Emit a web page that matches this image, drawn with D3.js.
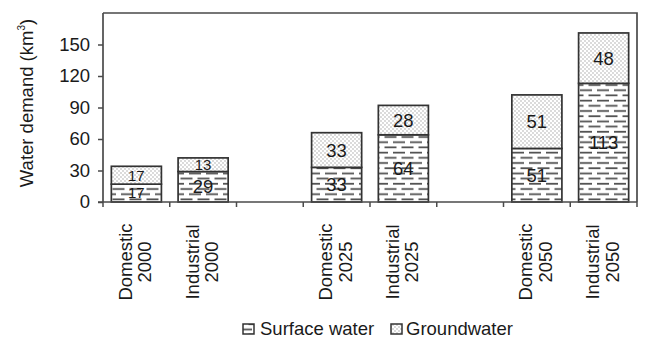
<!DOCTYPE html>
<html>
<head>
<meta charset="utf-8">
<script src="https://cdn.jsdelivr.net/npm/d3@7/dist/d3.min.js"></script>
<style>
  html, body { margin: 0; padding: 0; background: #fff; }
  svg { display: block; font-family: Arial, "Liberation Sans", Helvetica, sans-serif; }
</style>
</head>
<body>
<svg id="chart" width="645" height="337"></svg>
<script>
// Water demand by sector and year, split by source (km³)
const categories = ["dom2000", "ind2000", "gap1", "dom2025", "ind2025", "gap2", "dom2050", "ind2050"];
const sectorLabels = ["Domestic", "Industrial", "", "Domestic", "Industrial", "", "Domestic", "Industrial"];
const yearLabels = ["2000", "2000", "", "2025", "2025", "", "2050", "2050"];
const surfaceWater = [17, 29, null, 33, 64, null, 51, 113];
const groundwater = [17, 13, null, 33, 28, null, 51, 48];
const yTicks = [0, 30, 60, 90, 120, 150];
const seriesNames = ["Surface water", "Groundwater"];

const svg = d3.select("#chart");
const margin = { left: 103, right: 8, top: 13, bottom: 135 };
const W = 645, H = 337;

const x = d3.scaleBand()
  .domain(categories)
  .range([margin.left, W - margin.right])
  .paddingInner(0.25)
  .paddingOuter(0.125);

const y = d3.scaleLinear()
  .domain([0, 180])
  .range([H - margin.bottom, margin.top]);

const ink = "#1a1a1a";
const frame = "#4a4a4a";

// Fill patterns: dashed rows for surface water, stipple for groundwater
const defs = svg.append("defs");
const rowH = 5.2;
const dash = defs.append("pattern")
  .attr("id", "surfacePat")
  .attr("patternUnits", "userSpaceOnUse")
  .attr("width", 17)
  .attr("height", rowH * 2)
  .attr("x", 0)
  .attr("y", y(0) % (rowH * 2));
dash.append("rect").attr("width", 17).attr("height", rowH * 2).attr("fill", "#fff");
dash.append("line").attr("x1", 2).attr("x2", 14).attr("y1", rowH * 0.5).attr("y2", rowH * 0.5)
  .attr("stroke", "#4a4a4a").attr("stroke-width", 1.7);
dash.append("line").attr("x1", 10.5).attr("x2", 17).attr("y1", rowH * 1.5).attr("y2", rowH * 1.5)
  .attr("stroke", "#4a4a4a").attr("stroke-width", 1.7);
dash.append("line").attr("x1", 0).attr("x2", 5.5).attr("y1", rowH * 1.5).attr("y2", rowH * 1.5)
  .attr("stroke", "#4a4a4a").attr("stroke-width", 1.7);

const dots = defs.append("pattern")
  .attr("id", "groundPat")
  .attr("patternUnits", "userSpaceOnUse")
  .attr("width", 4)
  .attr("height", 4);
dots.append("rect").attr("width", 4).attr("height", 4).attr("fill", "#fff");
dots.append("circle").attr("cx", 1).attr("cy", 1).attr("r", 0.65).attr("fill", "#999");
dots.append("circle").attr("cx", 3).attr("cy", 3).attr("r", 0.65).attr("fill", "#999");

// Stacked data
const rows = categories.map((c, i) => ({
  cat: c, surface: surfaceWater[i], ground: groundwater[i]
})).filter(d => d.surface != null);

const bars = svg.append("g");
rows.forEach(d => {
  const segs = [
    { y0: 0, y1: d.surface, fill: "url(#surfacePat)", v: d.surface },
    { y0: d.surface, y1: d.surface + d.ground, fill: "url(#groundPat)", v: d.ground }
  ];
  segs.forEach(s => {
    bars.append("rect")
      .attr("x", x(d.cat))
      .attr("width", x.bandwidth())
      .attr("y", y(s.y1))
      .attr("height", y(s.y0) - y(s.y1))
      .attr("fill", s.fill)
      .attr("stroke", "#333")
      .attr("stroke-width", 1.7);
  });
  segs.forEach(s => {
    // thin segments get a slightly smaller label so neighbours stay apart
    const segPx = y(s.y0) - y(s.y1);
    bars.append("text")
      .attr("x", x(d.cat) + x.bandwidth() / 2)
      .attr("y", (y(s.y0) + y(s.y1)) / 2)
      .attr("dy", "0.36em")
      .attr("text-anchor", "middle")
      .attr("font-size", segPx < 20 ? 15 : 18.5)
      .attr("fill", ink)
      .text(s.v);
  });
});

// Plot frame (top and right)
svg.append("path")
  .attr("d", `M${margin.left},${margin.top}H${W - margin.right}V${y(0)}`)
  .attr("fill", "none")
  .attr("stroke", frame)
  .attr("stroke-width", 1.7);

// Y axis
const yAxis = svg.append("g")
  .attr("transform", `translate(${margin.left},0)`)
  .call(d3.axisLeft(y).tickValues(yTicks).tickSize(5).tickPadding(8).tickSizeOuter(0));
yAxis.select(".domain").attr("stroke", frame).attr("stroke-width", 1.7)
  .attr("d", `M0,${margin.top}V${y(0)}`);
yAxis.selectAll(".tick line").attr("stroke", frame).attr("stroke-width", 1.5);
yAxis.selectAll(".tick text").attr("font-size", 18.5).attr("fill", ink)
  .attr("font-family", "Arial, 'Liberation Sans', sans-serif");

// X axis: baseline plus boundary ticks between categories
const step = x.step();
const x0 = x.range()[0];
const boundaries = d3.range(categories.length + 1).map(i => x0 + i * step);
const xAxis = svg.append("g");
xAxis.append("line")
  .attr("x1", x0 - 5).attr("x2", x.range()[1])
  .attr("y1", y(0)).attr("y2", y(0))
  .attr("stroke", frame).attr("stroke-width", 1.7);
xAxis.selectAll(".bt").data(boundaries).join("line")
  .attr("x1", d => d).attr("x2", d => d)
  .attr("y1", y(0)).attr("y2", y(0) + 5)
  .attr("stroke", frame).attr("stroke-width", 1.5);

// Category labels, rotated, two lines
categories.forEach((c, i) => {
  if (!sectorLabels[i]) return;
  const cx = x(c) + x.bandwidth() / 2;
  const t = svg.append("text")
    .attr("transform", `translate(${cx},262) rotate(-90)`)
    .attr("text-anchor", "middle")
    .attr("font-size", 18.5)
    .attr("fill", ink);
  t.append("tspan").attr("x", 0).attr("y", -4.5).text(sectorLabels[i]);
  t.append("tspan").attr("x", 0).attr("y", 15).text(yearLabels[i]);
});

// Y axis title
const yt = svg.append("text")
  .attr("transform", `translate(33,103) rotate(-90)`)
  .attr("text-anchor", "middle")
  .attr("font-size", 18.5)
  .attr("fill", ink);
yt.append("tspan").text("Water demand (km");
yt.append("tspan").attr("font-size", 10).attr("dy", -8).text("3");
yt.append("tspan").attr("dy", 8).text(")");

// Legend
const legend = svg.append("g");
const legendItems = [
  { name: seriesNames[0], fill: "url(#surfacePat)", ix: 243, tx: 260 },
  { name: seriesNames[1], fill: "url(#groundPat)", ix: 391, tx: 406 }
];
legendItems.forEach(it => {
  legend.append("rect")
    .attr("x", it.ix).attr("y", 324).attr("width", 11).attr("height", 10)
    .attr("fill", it.fill).attr("stroke", "#333").attr("stroke-width", 1.5);
  legend.append("text")
    .attr("x", it.tx).attr("y", 334.5)
    .attr("font-size", 18.5).attr("fill", ink)
    .text(it.name);
});
</script>
</body>
</html>
